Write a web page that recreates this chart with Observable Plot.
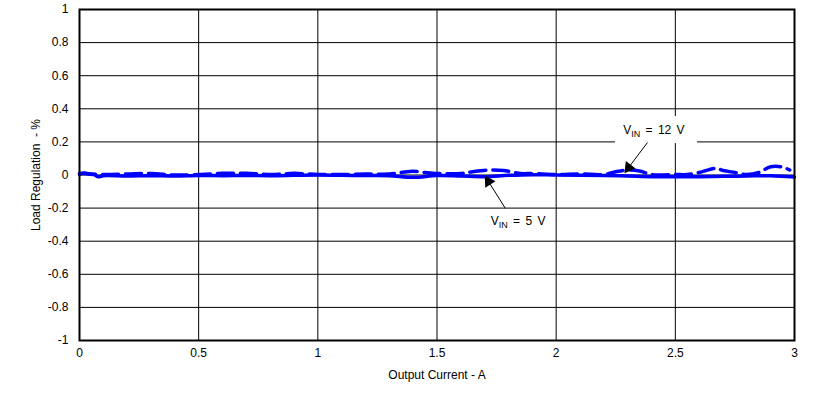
<!DOCTYPE html>
<html>
<head>
<meta charset="utf-8">
<script src="https://cdn.jsdelivr.net/npm/d3@7"></script>
<script src="https://cdn.jsdelivr.net/npm/@observablehq/plot@0.6"></script>
<style>
  html, body { margin: 0; padding: 0; background: #fff; }
  #chart svg { display: block; }
</style>
</head>
<body>
<div id="chart"></div>
<script>
// ---- data ----
const x5V = [0, 0.02, 0.04, 0.06, 0.08, 0.1, 0.2, 0.3, 0.4, 0.5, 0.6, 0.7, 0.8, 0.9, 1.0, 1.1, 1.2, 1.3, 1.4, 1.5, 1.6, 1.7, 1.8, 1.9, 2.0, 2.1, 2.2, 2.3, 2.4, 2.5, 2.6, 2.7, 2.8, 2.9, 3.0];
const reg5V = [0.003, 0.012, 0.006, 0.002, -0.01, -0.004, -0.006, -0.004, -0.006, -0.003, -0.004, -0.003, -0.004, -0.002, 0, -0.002, -0.003, -0.004, -0.014, -0.003, -0.006, -0.01, -0.002, 0.002, 0, -0.002, -0.003, -0.006, -0.01, -0.01, -0.01, -0.008, -0.006, -0.004, -0.012];

const x12V = [0, 0.1, 0.2, 0.3, 0.4, 0.5, 0.6, 0.7, 0.8, 0.9, 1.0, 1.1, 1.2, 1.3, 1.35, 1.4, 1.45, 1.5, 1.6, 1.65, 1.72, 1.78, 1.85, 1.9, 2.0, 2.1, 2.2, 2.25, 2.3, 2.35, 2.4, 2.5, 2.55, 2.6, 2.67, 2.7, 2.75, 2.8, 2.85, 2.9, 2.95, 2.98];
const reg12V = [0.01, 0.003, 0.006, 0.009, 0, 0.003, 0.01, 0.01, 0.003, 0.01, 0.003, 0.003, 0.006, 0.006, 0.015, 0.023, 0.015, 0.009, 0.009, 0.02, 0.03, 0.027, 0.009, 0.009, 0.003, 0.006, 0.003, 0.02, 0.03, 0.024, 0.003, 0.003, 0.003, 0.015, 0.04, 0.027, 0.015, 0.003, 0.015, 0.05, 0.048, 0.03];

const xTicks = [0, 0.5, 1, 1.5, 2, 2.5, 3];
const yTicks = [-1, -0.8, -0.6, -0.4, -0.2, 0, 0.2, 0.4, 0.6, 0.8, 1];

const xLabel = "Output Current - A";
const yLabel = "Load Regulation  - %";

// annotations (data units)
const labelNames = ["12 V", "5 V"];
const labelX = [2.41, 1.84];
const labelY = [0.27, -0.28];
const arrowX1 = [2.383, 1.787];
const arrowY1 = [0.196, -0.202];
const arrowX2 = [2.304, 1.716];
const arrowY2 = [0.045, -0.039];
const boxX = [2.249, 2.593];
const boxY = [0.353, 0.19];

// ---- build ----
const series5 = x5V.map((x, i) => ({x, y: reg5V[i]}));
const series12 = x12V.map((x, i) => ({x, y: reg12V[i]}));
const labels = labelNames.map((n, i) => ({n, x: labelX[i], y: labelY[i]}));
const arrows = labelNames.map((n, i) => ({x1: arrowX1[i], y1: arrowY1[i], x2: arrowX2[i], y2: arrowY2[i]}));

const W = 827, H = 401, mL = 79, mR = 33, mT = 9, mB = 61;
const pxX = (W - mL - mR) / 3, pxY = (H - mT - mB) / 2;
arrows.forEach(a => {
  const dx = (a.x2 - a.x1) * pxX, dy = -(a.y2 - a.y1) * pxY;
  a.rot = Math.atan2(dx, -dy) * 180 / Math.PI;
});

const fmt = d => String(+(+d).toFixed(1));
const blue = "#0000ff";

const chart = Plot.plot({
  width: W, height: H,
  marginLeft: mL, marginRight: mR, marginTop: mT, marginBottom: mB,
  style: {fontFamily: "'Liberation Sans', Arial, sans-serif", fontSize: "12px", color: "#000", background: "#fff"},
  x: {domain: [0, 3]},
  y: {domain: [-1, 1]},
  marks: [
    Plot.gridX(xTicks, {stroke: "#000", strokeOpacity: 1, strokeWidth: 1}),
    Plot.gridY(yTicks, {stroke: "#000", strokeOpacity: 1, strokeWidth: 1}),
    Plot.axisX(xTicks, {tickSize: 0, tickPadding: 8, tickFormat: fmt, label: xLabel, labelAnchor: "center", labelOffset: 38, labelArrow: "none", fontSize: 12}),
    Plot.axisY(yTicks, {tickSize: 0, tickPadding: 11, tickFormat: fmt, label: yLabel, labelAnchor: "center", labelOffset: 48, labelArrow: "none", fontSize: 12}),
    Plot.rect([{x1: boxX[0], x2: boxX[1], y1: boxY[0], y2: boxY[1]}], {x1: "x1", x2: "x2", y1: "y1", y2: "y2", fill: "#fff"}),
    Plot.line(series5, {x: "x", y: "y", stroke: blue, strokeWidth: 3.5, curve: "catmull-rom"}),
    Plot.line(series12, {x: "x", y: "y", stroke: blue, strokeWidth: 3.5, strokeDasharray: "16,7", curve: "catmull-rom"}),
    Plot.link(arrows, {x1: "x1", y1: "y1", x2: "x2", y2: "y2", stroke: "#000", strokeWidth: 1}),
    Plot.dot(arrows, {x: "x2", y: "y2", symbol: "triangle", r: 4.5, fill: "#000", stroke: "none", rotate: "rot"}),
    Plot.text(labels, {x: "x", y: "y", text: d => "V@" + d.n, textAnchor: "middle", fill: "#000", fontSize: 12, className: "vin-label"}),
    Plot.frame({stroke: "#000", strokeWidth: 2})
  ]
});

document.getElementById("chart").appendChild(chart);

// subscript "IN" in annotation labels
chart.querySelectorAll(".vin-label text").forEach(t => {
  const s = t.textContent;
  const rest = s.split("@")[1];
  t.textContent = "";
  t.setAttribute("word-spacing", "2");
  const ns = "http://www.w3.org/2000/svg";
  const a = document.createElementNS(ns, "tspan"); a.textContent = "V";
  const b = document.createElementNS(ns, "tspan"); b.textContent = "IN"; b.setAttribute("font-size", "9"); b.setAttribute("dy", "3");
  const c = document.createElementNS(ns, "tspan"); c.textContent = " = " + rest; c.setAttribute("dy", "-3");
  t.append(a, b, c);
});
</script>
</body>
</html>
